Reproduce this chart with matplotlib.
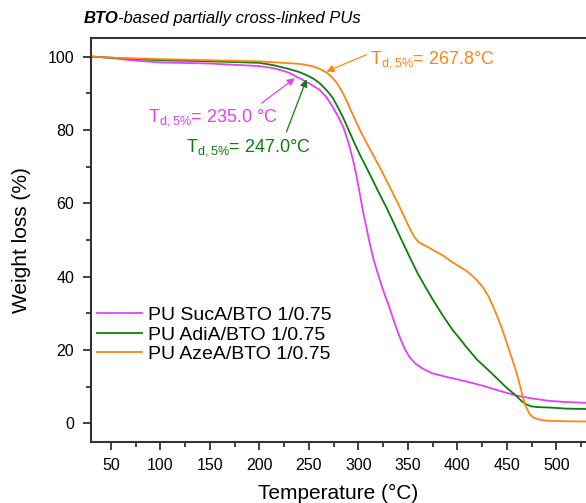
import numpy as np
import matplotlib.pyplot as plt
from matplotlib.ticker import MultipleLocator

plt.rcParams['font.family'] = ['Liberation Sans', 'DejaVu Sans']
plt.rcParams['mathtext.fontset'] = 'custom'
plt.rcParams['mathtext.rm'] = 'Liberation Sans'

# TGA curves
t_suc = [30, 50, 75, 100, 150, 200, 215, 230, 244, 252, 261, 268, 274, 280, 285, 290, 295, 298,
         301, 305, 308, 311, 315, 320, 325, 331, 337, 342, 347, 352, 358, 365, 375, 390, 409, 425,
         442, 459, 475, 493, 510, 529]
w_suc = [100, 99.6, 98.9, 98.4, 98.1, 97.4, 96.8, 95.6, 93.6, 92.4, 90.9, 88.8, 86.3, 83.4, 80.6,
         76.5, 71.3, 67.5, 63.2, 57.3, 53.6, 49.6, 45.0, 40.5, 36.3, 31.8, 27.0, 23.3, 20.2, 17.9,
         16.2, 14.9, 13.6, 12.6, 11.4, 10.3, 8.9, 7.6, 6.8, 6.1, 5.8, 5.6]

t_adi = [30, 50, 100, 150, 200, 215, 230, 240, 248, 255, 261, 268, 274, 279, 284, 289, 295, 301,
         308, 315, 321, 328, 335, 341, 345, 352, 360, 368, 375, 385, 395, 402, 409, 420, 432, 442,
         450, 459, 465, 470, 475, 482, 493, 510, 529]
w_adi = [100, 99.7, 99.0, 98.7, 98.3, 97.6, 96.6, 95.8, 94.9, 93.9, 92.7, 90.8, 88.8, 86.3, 83.7,
         80.7, 77.0, 73.5, 69.8, 66.0, 62.7, 59.0, 55.0, 51.5, 49.2, 45.2, 40.8, 37.0, 33.8, 29.5,
         25.5, 23.2, 20.8, 17.3, 14.3, 11.7, 9.6, 7.6, 6.0, 5.1, 4.6, 4.4, 4.3, 4.0, 3.9]

t_aze = [30, 50, 100, 150, 200, 241, 255, 262, 268, 273, 278, 283, 288, 293, 298, 303, 308, 315,
         321, 328, 335, 342, 348, 353, 357, 361, 366, 370, 375, 385, 395, 409, 418, 426, 432, 439,
         444, 449, 454, 459, 463, 466, 469, 473, 477, 483, 490, 510, 529]
w_aze = [100, 99.7, 99.3, 99.0, 98.7, 98.0, 97.3, 96.5, 95.6, 94.5, 92.9, 90.7, 88.0, 85.0, 82.0,
         79.2, 76.6, 73.1, 70.1, 66.4, 62.6, 58.8, 55.3, 52.5, 50.6, 49.4, 48.6, 48.1, 47.3, 45.8,
         43.9, 41.6, 39.5, 37.0, 34.3, 30.0, 26.5, 22.6, 18.5, 14.4, 10.5, 7.2, 4.6, 2.5, 1.5, 1.0,
         0.7, 0.55, 0.5]

labels = ['PU SucA/BTO 1/0.75', 'PU AdiA/BTO 1/0.75', 'PU AzeA/BTO 1/0.75']
colors = ['#E040FB', '#0A800A', '#FF8511']

# Td,5% annotations: tip (T, w), arrow tail, text position
td_text = [r'T$_{\rm d,5\%}$= 235.0 °C', r'T$_{\rm d,5\%}$= 247.0°C', r'T$_{\rm d,5\%}$= 267.8°C']
td_tip = [(235.8, 94.1), (247.6, 93.8), (267.7, 95.9)]
td_tail = [(202.2, 87.3), (227.4, 79.5), (308.1, 100.5)]
td_pos = [(87.3, 82.2), (125.9, 74.2), (311.3, 98.2)]

fig = plt.figure(figsize=(5.86, 5.03), dpi=100)
ax = fig.add_axes([0.1553, 0.122, 0.845, 0.802])

for t, w, lab, c in zip([t_suc, t_adi, t_aze], [w_suc, w_adi, w_aze], labels, colors):
    ax.plot(t, w, color=c, lw=1.3, label=lab)

for txt, tip, tail, pos, c in zip(td_text, td_tip, td_tail, td_pos, colors):
    ax.annotate('', xy=tip, xytext=tail,
                arrowprops=dict(arrowstyle='-|>', color=c, lw=0.9, mutation_scale=11, shrinkA=0, shrinkB=0))
    ax.text(pos[0], pos[1], txt, color=c, fontsize=13, ha='left', va='baseline')

ax.set_xlim(30, 530)
ax.set_ylim(-5, 105)
ax.xaxis.set_major_locator(MultipleLocator(50))
ax.xaxis.set_minor_locator(MultipleLocator(25))
ax.yaxis.set_major_locator(MultipleLocator(20))
ax.yaxis.set_minor_locator(MultipleLocator(10))
ax.tick_params(which='both', direction='out', labelsize=11.5, width=1.3, color='#333333')
ax.tick_params(which='major', length=6, pad=6)
ax.tick_params(which='minor', length=3.5)
ax.xaxis.set_ticks_position('bottom')
ax.yaxis.set_ticks_position('left')
ax.spines['right'].set_visible(False)
for s in ['left', 'bottom', 'top']:
    ax.spines[s].set_linewidth(1.5)
    ax.spines[s].set_color('#333333')

ax.set_xlabel('Temperature (°C)', fontsize=15, labelpad=8)
ax.set_ylabel('Weight loss (%)', fontsize=15, labelpad=12)

ax.legend(loc='upper left', bbox_to_anchor=(0.012, 0.335), frameon=False, fontsize=14,
          handlelength=2.3, handletextpad=0.3, labelspacing=0.1, borderaxespad=0, borderpad=0)

t1 = fig.text(0.142, 0.963, 'BTO', fontsize=12, fontweight='bold', fontstyle='italic', va='center')
ax.annotate('-based partially cross-linked PUs', xy=(1, 0), xycoords=t1, va='bottom',
            fontsize=12, fontstyle='italic')

fig.savefig('out.png', dpi=100)
